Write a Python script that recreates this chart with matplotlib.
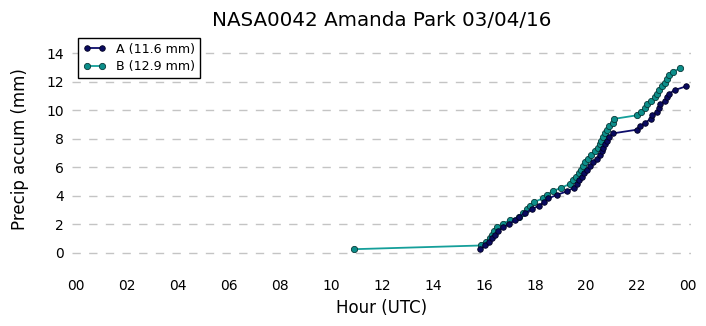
import matplotlib
matplotlib.use("Agg")
import matplotlib.pyplot as plt

title = "NASA0042 Amanda Park 03/04/16"
xlabel = "Hour (UTC)"
ylabel = "Precip accum (mm)"
xtick_pos = [0, 2, 4, 6, 8, 10, 12, 14, 16, 18, 20, 22, 24]
xtick_labels = ["00", "02", "04", "06", "08", "10", "12", "14", "16", "18", "20", "22", "00"]
ytick_pos = [0, 2, 4, 6, 8, 10, 12, 14]

label_a = "A (11.6 mm)"
hours_a = [15.84, 16.04, 16.20, 16.32, 16.42, 16.55, 16.73, 17.00, 17.20, 17.39,
           17.60, 17.88, 18.14, 18.35, 18.52, 18.85, 19.27, 19.52, 19.64, 19.74,
           19.83, 19.93, 20.02, 20.16, 20.29, 20.42, 20.55, 20.62, 20.68, 20.75,
           20.81, 20.90, 21.05, 21.99, 22.12, 22.33, 22.54, 22.59, 22.80, 22.88,
           22.92, 23.08, 23.19, 23.27, 23.49, 23.92]
accum_a = [0.25, 0.51, 0.76, 1.02, 1.27, 1.52, 1.78, 2.03, 2.29, 2.54,
           2.79, 3.05, 3.30, 3.56, 3.81, 4.06, 4.32, 4.57, 4.83, 5.08,
           5.33, 5.59, 5.84, 6.10, 6.35, 6.60, 6.86, 7.11, 7.37, 7.62,
           7.87, 8.13, 8.38, 8.64, 8.89, 9.14, 9.40, 9.65, 9.91, 10.16,
           10.41, 10.67, 10.92, 11.18, 11.43, 11.68]

label_b = "B (12.9 mm)"
hours_b = [10.90, 15.87, 16.08, 16.24, 16.31, 16.39, 16.50, 16.73, 17.02, 17.39,
           17.52, 17.67, 17.80, 17.96, 18.30, 18.46, 18.69, 19.03, 19.37, 19.50,
           19.61, 19.72, 19.80, 19.88, 19.97, 20.06, 20.20, 20.34, 20.48, 20.54,
           20.60, 20.67, 20.74, 20.81, 20.90, 21.04, 21.10, 21.99, 22.14, 22.33,
           22.41, 22.56, 22.69, 22.80, 22.88, 22.98, 23.08, 23.16, 23.27, 23.40,
           23.69]
accum_b = [0.25, 0.51, 0.76, 1.02, 1.27, 1.52, 1.78, 2.03, 2.29, 2.54,
           2.79, 3.05, 3.30, 3.56, 3.81, 4.06, 4.32, 4.57, 4.83, 5.08,
           5.33, 5.59, 5.84, 6.10, 6.35, 6.60, 6.86, 7.11, 7.37, 7.62,
           7.87, 8.13, 8.38, 8.64, 8.89, 9.14, 9.40, 9.65, 9.91, 10.16,
           10.41, 10.67, 10.92, 11.18, 11.43, 11.68, 11.94, 12.19, 12.45, 12.70,
           12.95]

fig = plt.figure(figsize=(7.06, 3.26), dpi=100)
ax = fig.add_axes([72 / 706, 59 / 326, 619 / 706, 235 / 326])

ax.plot(hours_a, accum_a, color="#0d0d6b", lw=1.3, marker="o", ms=4,
        mfc="#0a0a60", mec="#000020", mew=0.6, label=label_a, zorder=3)
ax.plot(hours_b, accum_b, color="#159f9a", lw=1.3, marker="o", ms=4.5,
        mfc="#0c8e8a", mec="#083838", mew=0.6, label=label_b, zorder=2)

ax.set_xlim(-0.157, 24.118)
ax.set_ylim(-1, 15.5)
ax.set_xticks(xtick_pos)
ax.set_xticklabels(xtick_labels)
ax.set_yticks(ytick_pos)
ax.tick_params(axis="x", length=0, pad=9, labelsize=10)
ax.tick_params(axis="y", length=0, pad=6, labelsize=10)
for s in ax.spines.values():
    s.set_visible(False)
ax.yaxis.grid(True, color="#c4c4c4", lw=1.0, linestyle=(0, (6, 6)))
ax.xaxis.grid(False)
ax.set_axisbelow(True)

ax.set_title(title, fontsize=14.3, pad=4.5)
ax.set_xlabel(xlabel, fontsize=12, labelpad=4)
ax.set_ylabel(ylabel, fontsize=12, labelpad=12)

leg = ax.legend(loc="upper left", fontsize=9.1, numpoints=2, fancybox=False,
                framealpha=1, edgecolor="black", borderaxespad=0.45,
                handlelength=1.8, borderpad=0.4, labelspacing=0.35)
leg.get_frame().set_linewidth(1.0)

fig.savefig("out.png", dpi=100)
